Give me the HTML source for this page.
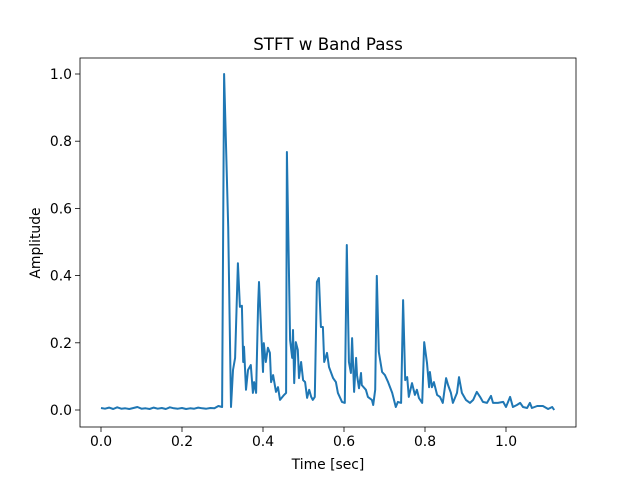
<!DOCTYPE html>
<html><head><meta charset="utf-8"><style>
body{margin:0;background:#fff}
text{font-family:"DejaVu Sans","Liberation Sans",sans-serif;fill:#000}
</style></head><body>
<svg id="chart" width="640" height="480" xmlns="http://www.w3.org/2000/svg">
<rect width="640" height="480" fill="#fff"/>
<text x="328" y="50" font-size="16.7" text-anchor="middle">STFT w Band Pass</text>
<text x="328" y="469" font-size="13.9" text-anchor="middle">Time [sec]</text>
<text x="0" y="0" font-size="13.9" text-anchor="middle" transform="translate(40,243) rotate(-90)">Amplitude</text>
<g id="ticks"></g>
<path id="line" fill="none" stroke="#1f77b4" stroke-width="2" stroke-linejoin="round"/>
<rect x="80" y="58" width="496" height="369" fill="none" stroke="#000" stroke-width="0.8"/>
</svg>
<script>
const xTicks=[0,0.2,0.4,0.6,0.8,1.0];
const xTickLabels=["0.0","0.2","0.4","0.6","0.8","1.0"];
const yTicks=[0,0.2,0.4,0.6,0.8,1.0];
const yTickLabels=["0.0","0.2","0.4","0.6","0.8","1.0"];
const baseAmp=[0.006,0.004,0.007,0.003,0.008,0.004,0.005,0.003,0.006,0.009,0.004,0.005,0.003,0.007,0.004,0.006,0.003,0.008,0.005,0.004,0.006,0.003,0.005,0.004,0.007,0.005,0.004,0.006,0.005,0.012];
const baseTime=[0,0.01,0.02,0.03,0.04,0.05,0.06,0.07,0.08,0.09,0.1,0.11,0.12,0.13,0.14,0.15,0.16,0.17,0.18,0.19,0.2,0.21,0.22,0.23,0.24,0.25,0.26,0.27,0.28,0.29];
const sigTime=[.299,.304,.314,.321,.326,.331,.338,.343,.348,.351,.353,.358,.363,.370,.375,.378,.383,.388,.390,.400,.402,.407,.412,.417,.420,.425,.432,.437,.442,.452,.457,.459,.467,.472,.474,.477,.481,.486,.489,.494,.499,.504,.509,.514,.519,.523,.528,.533,.538,.543,.548,.551,.558,.563,.573,.580,.585,.595,.602,.607,.612,.617,.620,.625,.630,.632,.637,.642,.644,.654,.659,.669,.672,.677,.681,.686,.694,.701,.709,.719,.728,.733,.741,.746,.751,.756,.760,.768,.775,.780,.785,.793,.798,.805,.810,.812,.817,.822,.830,.837,.844,.852,.857,.864,.869,.879,.884,.891,.901,.911,.919,.928,.936,.943,.953,.963,.968,.980,.993,1.0,1.010,1.017,1.027,1.035,1.042,1.052,1.059,1.064,1.077,1.091,1.104,1.114,1.119];
const sigAmp=[.009,1.0,.545,.009,.119,.155,.437,.307,.310,.143,.188,.060,.119,.134,.051,.083,.051,.312,.381,.113,.199,.143,.185,.170,.083,.104,.054,.068,.030,.045,.051,.768,.208,.155,.238,.080,.202,.179,.095,.143,.089,.083,.036,.060,.039,.030,.039,.381,.393,.247,.247,.143,.170,.128,.095,.083,.051,.024,.021,.491,.143,.110,.214,.054,.155,.104,.065,.110,.074,.060,.039,.030,.015,.060,.399,.173,.113,.104,.083,.051,.009,.024,.021,.327,.089,.098,.039,.080,.045,.060,.036,.021,.202,.140,.068,.113,.068,.083,.045,.039,.021,.095,.074,.051,.021,.051,.098,.051,.030,.021,.030,.054,.039,.024,.021,.042,.021,.021,.024,.009,.039,.009,.015,.021,.009,.006,.021,.006,.012,.012,.003,.009,0];
const X=t=>101+405*t, Y=a=>410-336*a;
const g=document.getElementById('ticks'), NS='http://www.w3.org/2000/svg';
xTicks.forEach((v,i)=>{
 const l=document.createElementNS(NS,'line');
 l.setAttribute('x1',X(v));l.setAttribute('x2',X(v));l.setAttribute('y1',427);l.setAttribute('y2',432);l.setAttribute('stroke','#000');l.setAttribute('stroke-width','0.8');
 
 
 g.appendChild(l);
 const t=document.createElementNS(NS,'text');
 t.setAttribute('x',X(v));t.setAttribute('y',446);t.setAttribute('font-size','13.9');t.setAttribute('text-anchor','middle');t.textContent=xTickLabels[i];
 
 
 g.appendChild(t);
});
yTicks.forEach((v,i)=>{
 const l=document.createElementNS(NS,'line');
 l.setAttribute('x1',75);l.setAttribute('x2',80);l.setAttribute('y1',Y(v));l.setAttribute('y2',Y(v));l.setAttribute('stroke','#000');l.setAttribute('stroke-width','0.8');
 
 
 g.appendChild(l);
 const t=document.createElementNS(NS,'text');
 t.setAttribute('x',72);t.setAttribute('y',Y(v)+5);t.setAttribute('font-size','13.9');t.setAttribute('text-anchor','end');t.textContent=yTickLabels[i];
 
 
 g.appendChild(t);
});
const T=baseTime.concat(sigTime), A=baseAmp.concat(sigAmp);
document.getElementById('line').setAttribute('d',T.map((t,i)=>(i?'L':'M')+X(t).toFixed(1)+','+Y(A[i]).toFixed(1)).join(''));
</script>
</body></html>
